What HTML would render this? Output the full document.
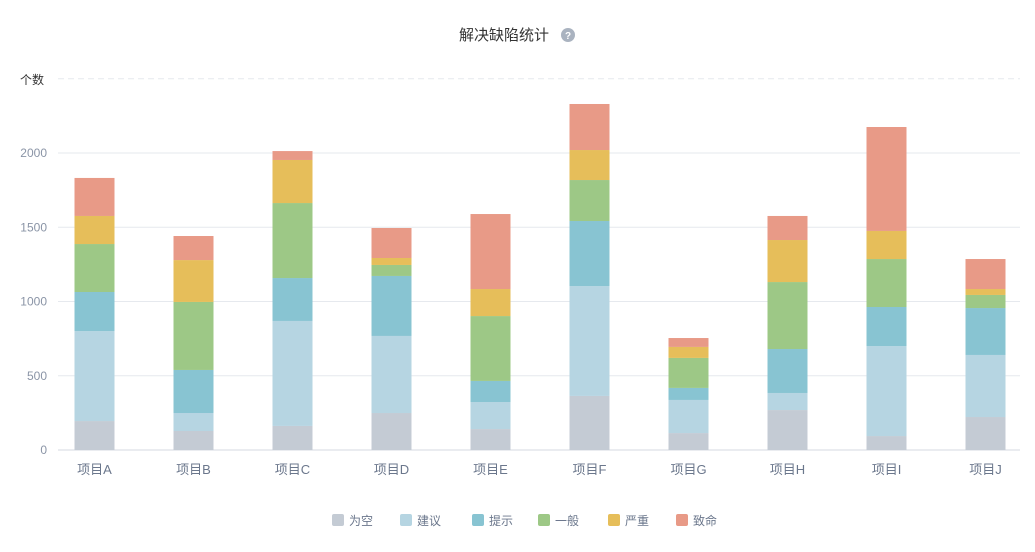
<!DOCTYPE html>
<html><head><meta charset="utf-8"><style>
body{margin:0;background:#fff;width:1035px;height:547px;overflow:hidden;font-family:"Liberation Sans","Noto Sans CJK SC",sans-serif;}
</style></head><body>
<svg id="chart" width="1035" height="547" xmlns="http://www.w3.org/2000/svg" font-family="Liberation Sans, Noto Sans CJK SC, sans-serif">
<text x="504" y="40" text-anchor="middle" font-size="15" fill="#333">解决缺陷统计</text>
<g><circle cx="568" cy="35" r="7" fill="#aab3c0"/><text x="568" y="39" text-anchor="middle" font-size="10" fill="#fff" font-weight="bold">?</text></g>
<text x="20" y="84" font-size="12" fill="#333">个数</text>
<g id="grid"></g><g id="bars"></g><g id="xlabels"></g><g id="legend"></g>
</svg>
<script>
const categories=["项目A","项目B","项目C","项目D","项目E","项目F","项目G","项目H","项目I","项目J"];
const seriesNames=["为空","建议","提示","一般","严重","致命"];
const colors=["#c4cbd4","#b6d5e2","#88c4d2","#9dc886","#e6be5a","#e89a87"];
const empty=[195,128,162,249,141,364,114,269,94,222];
const suggest=[606,121,707,519,182,740,223,115,606,418];
const hint=[263,290,289,404,142,438,81,296,263,316];
const normal=[323,458,505,74,437,276,202,451,323,88];
const severe=[189,282,290,47,182,202,74,283,189,40];
const fatal=[256,162,60,202,505,310,60,162,700,202];
const yTicks=[0,500,1000,1500,2000,2500];
const series=[empty,suggest,hint,normal,severe,fatal];
const NS="http://www.w3.org/2000/svg";
const y0=450,yMax=2500,yTop=78.75;
const y=v=>y0-(v/yMax)*(y0-yTop);
const band=99,left=45;
const x=i=>left+band*i+band/2;
function mk(t,a,p){const e=document.createElementNS(NS,t);for(const k in a)e.setAttribute(k,a[k]);p.appendChild(e);return e;}
const grid=document.getElementById('grid');
yTicks.forEach((t,i)=>{
  const l=mk('line',{x1:58,x2:1020,y1:y(t),y2:y(t),stroke:i==0?'#d4d9e0':'#e6e9ee','stroke-dasharray':t==2500?'6,4':'none'},grid);
  
  
  if(t!==2500){const tx=mk('text',{x:47,y:y(t)+4,'text-anchor':'end','font-size':12,fill:'#8a94a6'},grid);tx.textContent=t;
  
  }
});
const bars=document.getElementById('bars'),xl=document.getElementById('xlabels');
categories.forEach((c,i)=>{
  let acc=0;
  series.forEach((s,k)=>{
    const r=mk('rect',{x:x(i)-20,width:40,y:y(acc+s[i]),height:y(acc)-y(acc+s[i]),fill:colors[k]},bars);
    
    
    acc+=s[i];
  });
  const t=mk('text',{x:x(i),y:474,'text-anchor':'middle','font-size':13,fill:'#6b778c'},xl);t.textContent=c;
  
  
});
const lg=document.getElementById('legend');
const lx=[332,400,472,538,608,676];
seriesNames.forEach((n,k)=>{
  const g=mk('g',{},lg);
  
  
  mk('rect',{x:lx[k],y:514,width:12,height:12,rx:2,fill:colors[k]},g);
  const t=mk('text',{x:lx[k]+17,y:525,'font-size':12,fill:'#6b778c'},g);t.textContent=n;
});
</script>
</body></html>
